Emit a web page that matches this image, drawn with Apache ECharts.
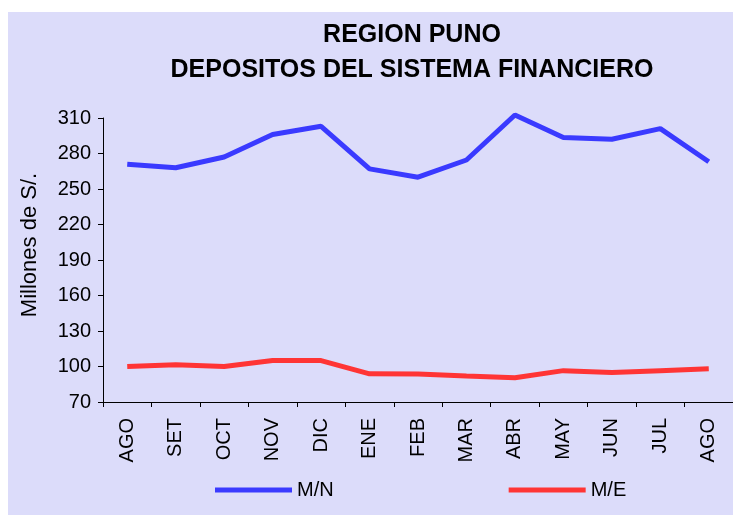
<!DOCTYPE html>
<html lang="es">
<head>
    <meta charset="UTF-8">
    <script src="https://cdn.jsdelivr.net/npm/echarts@6/dist/echarts.min.js"></script>
    <style>
        html, body { margin: 0; padding: 0; background: #ffffff; }
        #chart { width: 733px; height: 515px; }
    </style>
</head>
<body>
<div id="chart"></div>
<script>
    // datos
    var meses = ['AGO', 'SET', 'OCT', 'NOV', 'DIC', 'ENE', 'FEB', 'MAR', 'ABR', 'MAY', 'JUN', 'JUL', 'AGO'];
    var monedaNacional = [271, 268, 277, 296, 303, 267, 260, 274.5, 312.5, 293.5, 292, 301, 273];
    var monedaExtranjera = [100, 101.5, 100, 105, 105, 93.8, 93.6, 92, 90.5, 96.5, 95, 96.5, 98];
    var ejeY = { min: 70, max: 310, paso: 30 };

    var chart = echarts.init(document.getElementById('chart'));
    var font = 'Liberation Sans, Arial, sans-serif';

    var option = {
        backgroundColor: '#ffffff',
        animation: false,
        graphic: [{
            type: 'rect',
            z: -10,
            shape: { x: 8, y: 12, width: 740, height: 520 },
            style: { fill: '#dcdcfa' }
        }],
        title: {
            text: 'REGION PUNO\nDEPOSITOS DEL SISTEMA FINANCIERO',
            left: 407,
            textAlign: 'center',
            top: 13,
            textStyle: { fontFamily: font, fontSize: 25, fontWeight: 'bold', color: '#000', lineHeight: 35 }
        },
        legend: {
            left: 210,
            top: 475,
            icon: 'rect',
            itemWidth: 77,
            itemHeight: 5,
            itemGap: 175,
            textStyle: { fontFamily: font, fontSize: 20, color: '#000' },
            data: ['M/N', 'M/E']
        },
        grid: { left: 103, right: -10, top: 118, bottom: 113 },
        xAxis: {
            type: 'category',
            data: meses,
            boundaryGap: true,
            axisLine: { lineStyle: { color: '#000', width: 1 } },
            axisTick: { show: true, length: 5, lineStyle: { color: '#000' } },
            axisLabel: { rotate: 90, margin: 16, fontFamily: font, fontSize: 20, color: '#000' }
        },
        yAxis: {
            type: 'value',
            min: ejeY.min,
            max: ejeY.max,
            interval: ejeY.paso,
            name: 'Millones de S/.',
            nameLocation: 'middle',
            nameGap: 62,
            nameTextStyle: { fontFamily: font, fontSize: 22, color: '#000', padding: [0, 0, 0, 30] },
            splitLine: { show: false },
            axisLine: { show: true, lineStyle: { color: '#000', width: 1 } },
            axisTick: { show: true, length: 5, lineStyle: { color: '#000' } },
            axisLabel: { margin: 12, fontFamily: font, fontSize: 20, color: '#000' }
        },
        series: [{
            name: 'M/N',
            type: 'line',
            data: monedaNacional,
            clip: false,
            showSymbol: false,
            symbol: 'none',
            itemStyle: { color: '#3a3aff' },
            lineStyle: { color: '#3a3aff', width: 5 }
        }, {
            name: 'M/E',
            type: 'line',
            data: monedaExtranjera,
            clip: false,
            showSymbol: false,
            symbol: 'none',
            itemStyle: { color: '#ff3535' },
            lineStyle: { color: '#ff3535', width: 5 }
        }]
    };
    chart.setOption(option);
</script>
</body>
</html>
